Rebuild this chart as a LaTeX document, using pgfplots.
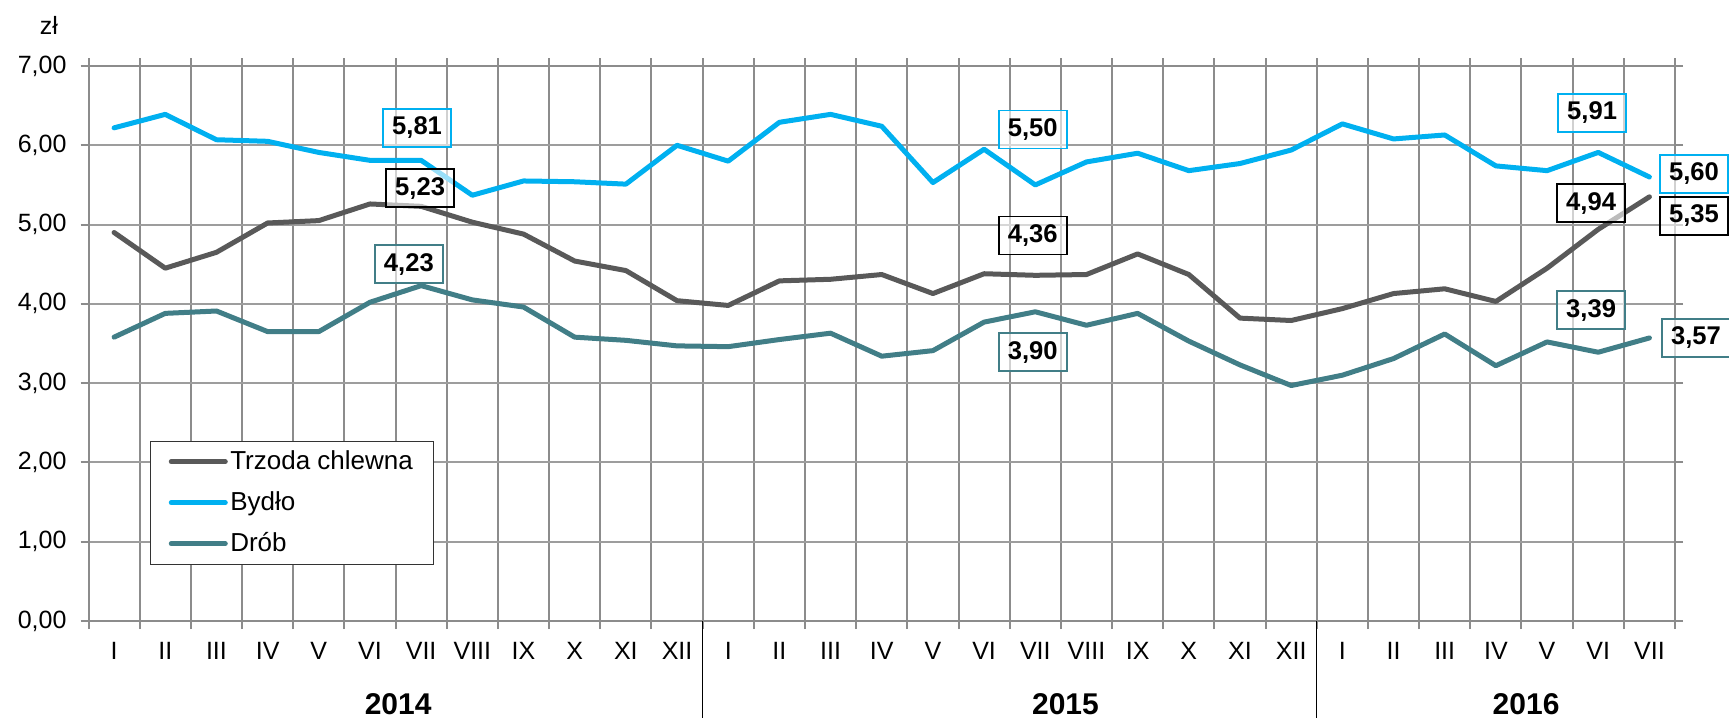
\documentclass[border=0pt]{standalone}
\usepackage{fontspec}
\setmainfont{Liberation Sans}
\usepackage{pgfplots}
\usepackage{pgfplotstable}
\pgfplotsset{compat=1.18}
\definecolor{trzoda}{HTML}{595959}
\definecolor{bydlo}{HTML}{00B0F0}
\definecolor{drob}{HTML}{417E87}
\definecolor{gridg}{HTML}{8C8C8C}
\pgfplotstableread{
x T B D
0 4.90 6.22 3.58
1 4.45 6.39 3.88
2 4.65 6.07 3.91
3 5.02 6.05 3.65
4 5.05 5.91 3.65
5 5.26 5.81 4.02
6 5.23 5.81 4.23
7 5.03 5.37 4.05
8 4.88 5.55 3.96
9 4.54 5.54 3.58
10 4.42 5.51 3.54
11 4.04 6.00 3.47
12 3.98 5.80 3.46
13 4.29 6.29 3.55
14 4.31 6.39 3.63
15 4.37 6.24 3.34
16 4.13 5.53 3.41
17 4.38 5.95 3.77
18 4.36 5.50 3.90
19 4.37 5.79 3.73
20 4.63 5.90 3.88
21 4.37 5.68 3.53
22 3.82 5.77 3.23
23 3.79 5.94 2.97
24 3.94 6.27 3.10
25 4.13 6.08 3.31
26 4.19 6.13 3.62
27 4.03 5.74 3.22
28 4.45 5.68 3.52
29 4.94 5.91 3.39
30 5.35 5.60 3.57
}\datatable
\tikzset{lab/.style={draw=#1, line width=0.8pt, fill=white, fill opacity=0.6, text opacity=1,
  minimum width=34pt, minimum height=19pt, inner sep=0pt,
  font=\fontsize{12.8}{15}\selectfont\bfseries}}
\begin{document}
\begin{tikzpicture}
\useasboundingbox (-44.25pt,-48.5pt) rectangle (820.25pt,310.5pt);
\begin{axis}[
  at={(0,0)}, anchor=south west,
  scale only axis, width=793.25pt, height=277.5pt,
  clip=false,
  xmin=-0.5, xmax=30.5, ymin=0, ymax=7,
  xtick={0,...,30},
  xticklabels={I,II,III,IV,V,VI,VII,VIII,IX,X,XI,XII,I,II,III,IV,V,VI,VII,VIII,IX,X,XI,XII,I,II,III,IV,V,VI,VII},
  minor xtick={-0.5,0.5,...,30.5},
  ytick={0,1,...,7},
  tick align=outside,
  major tick length=4pt, minor tick length=4pt,
  major x tick style={draw=none},
  minor x tick style={draw=gridg, line width=1pt},
  y tick style={draw=gridg, line width=1pt},
  xminorgrids=true, ymajorgrids=true,
  minor x grid style={draw=gridg, line width=1pt},
  major y grid style={draw=gridg!85, line width=1pt},
  axis line style={draw=gridg, line width=1pt},
  tick label style={font=\fontsize{12.5}{15}\selectfont},
  xticklabel style={yshift=-3pt},
  yticklabel style={xshift=-3.5pt},
  /pgf/number format/.cd, fixed, fixed zerofill, precision=2, use comma, assume math mode=true,
  /pgfplots/.cd,
  legend style={at={(0.0388,0.1009)}, anchor=south west, draw=black!80, line width=0.7pt,
    fill=white, inner xsep=9pt, inner ysep=0pt, row sep=0pt,
    font=\fontsize{13}{15.6}\selectfont,
    nodes={inner xsep=1.25pt, inner ysep=0pt, minimum height=20.5pt}},
  legend cell align=left,
  legend image code/.code={\draw[#1, line cap=round] (0pt,0pt) -- (27pt,0pt);},
]
\addplot[trzoda, line width=2.5pt, line join=round, line cap=round] table[x=x,y=T]{\datatable};
\addlegendentry{Trzoda chlewna}
\addplot[bydlo, line width=2.5pt, line join=round, line cap=round] table[x=x,y=B]{\datatable};
\addlegendentry{Bydło}
\addplot[drob, line width=2.5pt, line join=round, line cap=round] table[x=x,y=D]{\datatable};
\addlegendentry{Drób}

\node[lab=bydlo] at (axis cs:5.92,6.22) {5,81};
\node[lab=black] at (axis cs:5.98,5.46) {5,23};
\node[lab=drob] at (axis cs:5.76,4.50) {4,23};
\node[lab=bydlo] at (axis cs:17.95,6.20) {5,50};
\node[lab=black] at (axis cs:17.95,4.86) {4,36};
\node[lab=drob] at (axis cs:17.95,3.39) {3,90};
\node[lab=bydlo] at (axis cs:28.88,6.41) {5,91};
\node[lab=black] at (axis cs:28.86,5.27) {4,94};
\node[lab=drob] at (axis cs:28.86,3.92) {3,39};
\node[lab=bydlo] at (axis cs:30.87,5.64) {5,60};
\node[lab=black] at (axis cs:30.87,5.11) {5,35};
\node[lab=drob] at (axis cs:30.91,3.57) {3,57};

\draw[black, line width=0.7pt] (axis cs:11.5,0) -- ([yshift=-48.5pt]axis cs:11.5,0);
\draw[black, line width=0.7pt] (axis cs:23.5,0) -- ([yshift=-48.5pt]axis cs:23.5,0);
\node[font=\fontsize{15}{18}\selectfont\bfseries] at ([yshift=-41.5pt]axis cs:5.55,0) {2014};
\node[font=\fontsize{15}{18}\selectfont\bfseries] at ([yshift=-41.5pt]axis cs:18.59,0) {2015};
\node[font=\fontsize{15}{18}\selectfont\bfseries] at ([yshift=-41.5pt]axis cs:27.59,0) {2016};
\node[font=\fontsize{12.5}{15}\selectfont] at (rel axis cs:-0.0249,1.0739) {zł};
\end{axis}
\end{tikzpicture}
\end{document}
